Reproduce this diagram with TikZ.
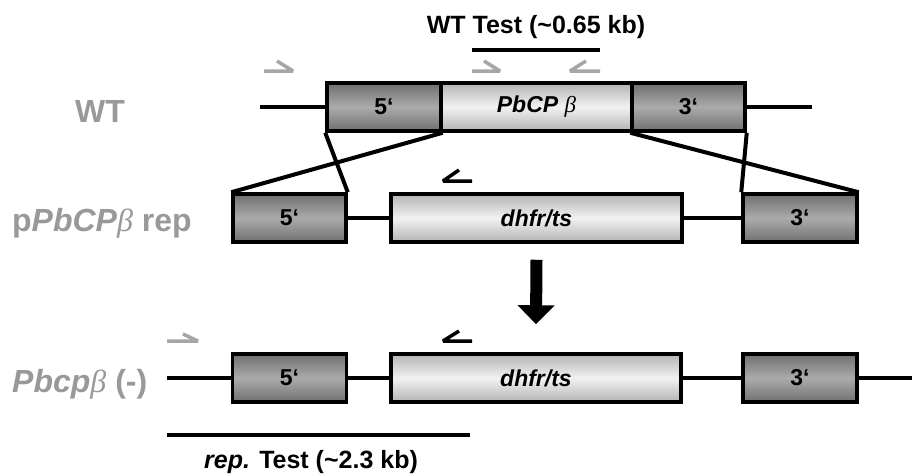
\documentclass[tikz,border=0pt]{standalone}
\usepackage{fontspec}
\setmainfont{Liberation Sans}
\newfontfamily\greekfont{Liberation Serif}
\usetikzlibrary{arrows.meta}

\definecolor{labelgray}{HTML}{999999}
\definecolor{primergray}{HTML}{A6A6A6}
\definecolor{flankedge}{HTML}{6F6F6F}
\definecolor{flankmid}{HTML}{ABABAB}
\definecolor{geneedge}{HTML}{B3B3B3}
\definecolor{genemid}{HTML}{F2F2F2}

% italic beta in a lighter face
\newcommand{\gbeta}{{\greekfont\mdseries\itshape β}}

\begin{document}
\begin{tikzpicture}[x=1pt, y=-1pt,
    dna/.style={line width=4pt, black},
    seg/.style={draw=black, line width=3.5pt, inner sep=0pt, minimum height=48pt,
        font=\fontsize{23}{27}\selectfont\bfseries},
    flank/.style={seg, minimum width=113pt, top color=flankedge, bottom color=flankedge, middle color=flankmid},
    gene/.style={seg, top color=geneedge, bottom color=geneedge, middle color=genemid},
    primer/.style={line width=3.5pt, line join=bevel},
    bar/.style={line width=4.5pt, black},
    rowlabel/.style={labelgray, inner sep=0pt, font=\fontsize{32}{37}\selectfont\bfseries},
    testlabel/.style={black, inner sep=0pt, font=\fontsize{25}{30}\selectfont\bfseries},
    bigarrow/.style={line width=12pt, -{Triangle[width=36pt, length=19pt]}}]

    \useasboundingbox (0,0) rectangle (912,475);

    % Wild-type locus
    \node[flank, minimum width=114pt] (wt5) at (384,107) {5‘};
    \node[gene, minimum width=191pt] (wtgene) at (536.5,107) {\textit{PbCP} \gbeta};
    \node[flank] (wt3) at (688.5,107) {3‘};
    \coordinate (wtL) at (260,107);
    \coordinate (wtR) at (812,107);
    \draw[dna] (wtL) -- (wt5.west);
    \draw[dna] (wt3.east) -- (wtR);

    % Replacement construct
    \node[flank] (rp5) at (289.5,218) {5‘};
    \node[gene, minimum width=291pt] (rpdhfr) at (536.5,218) {\textit{dhfr/ts}};
    \node[flank, minimum width=114pt] (rp3) at (800,218) {3‘};
    \draw[dna] (rp5.east) -- (rpdhfr.west);
    \draw[dna] (rpdhfr.east) -- (rp3.west);

    % Crossover lines
    \draw[dna] (wt5.south west) -- (rp5.north east);
    \draw[dna] (wt5.south east) -- (rp5.north west);
    \draw[dna] (wt3.south east) -- (rp3.north west);
    \draw[dna] (wt3.south west) -- (rp3.north east);

    % Knock-out locus
    \node[flank, minimum width=114pt] (ko5) at (289.5,378) {5‘};
    \node[gene, minimum width=290pt] (kodhfr) at (536,378) {\textit{dhfr/ts}};
    \node[flank, minimum width=114pt] (ko3) at (800,378) {3‘};
    \coordinate (koL) at (167,378);
    \coordinate (koR) at (912,378);
    \draw[dna] (koL) -- (ko5.west);
    \draw[dna] (ko5.east) -- (kodhfr.west);
    \draw[dna] (kodhfr.east) -- (ko3.west);
    \draw[dna] (ko3.east) -- (koR);

    \draw[bigarrow] ([yshift=-16pt]rpdhfr.south) -- ([yshift=28pt]kodhfr.north);

    % Row labels
    \node[rowlabel, anchor=base west] (lwt) at (75,122) {WT};
    \node[rowlabel, anchor=base west] (lrp) at (12,231) {p\textit{PbCP}\gbeta\ rep};
    \node[rowlabel, anchor=base west] (lko) at (12,392) {\textit{Pbcp}\gbeta\ (-)};

    % Primers
    \draw[primer, primergray] (264,71) -- (293,71) -- (277,61);
    \draw[primer, primergray] (472,71) -- (500,71) -- (484,61);
    \draw[primer, primergray] (600,71) -- (570,71) -- (586,61);
    \draw[primer, black] (472,181) -- (443,181) -- (459,170);
    \draw[primer, primergray] (167,341) -- (198,341) -- (183,334);
    \draw[primer, black] (472,341) -- (443,341) -- (459,331);

    % PCR products
    \coordinate (wtA) at (472,50);
    \coordinate (wtB) at (600,50);
    \draw[bar] (wtA) -- (wtB);
    \node[testlabel, anchor=base] (wttest) at (536,33) {WT Test (\textasciitilde0.65 kb)};

    \coordinate (repA) at (167,435);
    \coordinate (repB) at (470,435);
    \draw[bar] (repA) -- (repB);
    \node[testlabel, anchor=base] (reptest) at (311,468) {\textit{rep.} Test (\textasciitilde2.3 kb)};
\end{tikzpicture}
\end{document}
